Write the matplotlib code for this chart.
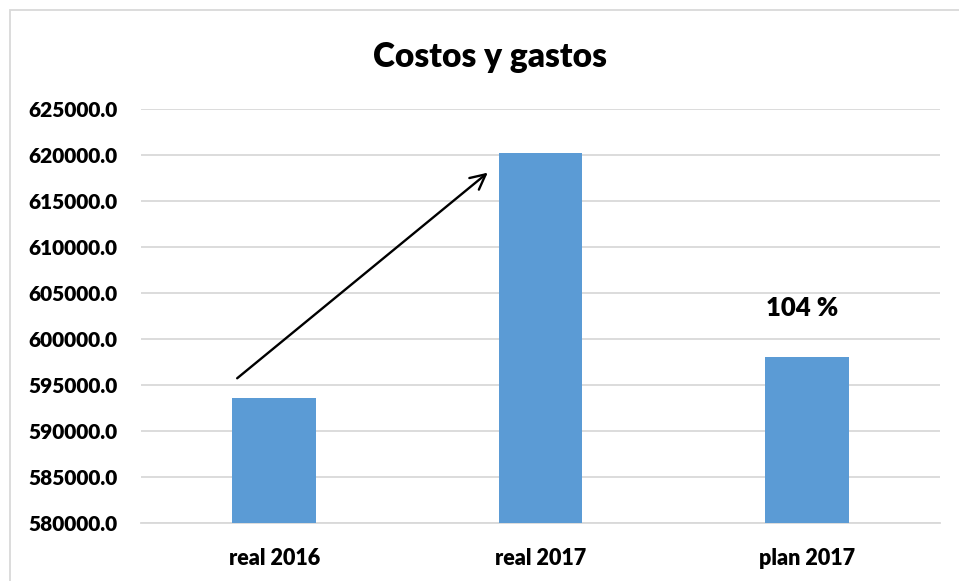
import matplotlib.pyplot as plt
from matplotlib.ticker import FormatStrFormatter
from matplotlib.patches import Rectangle

# datos
categorias = ['real 2016', 'real 2017', 'plan 2017']
valores = [593630, 620220, 598080]
titulo = 'Costos y gastos'
porcentaje = '104 %'
y_min, y_max, y_paso = 580000, 625000, 5000

plt.rcParams['font.family'] = ['Lato', 'DejaVu Sans']
plt.rcParams['font.weight'] = 'heavy'

fig = plt.figure(figsize=(9.59, 5.81), dpi=100)
ax = fig.add_axes([141 / 959, 1 - 523.3 / 581, 799 / 959, 414.6 / 581])

x = list(range(len(categorias)))
ax.bar(x, [v - y_min for v in valores], bottom=y_min, width=0.314, color='#5b9bd5', zorder=3)
ax.set_xlim(-0.5, 2.5)
ax.set_ylim(y_min, y_max)
ax.set_yticks(range(y_min, y_max + 1, y_paso))
ax.yaxis.set_major_formatter(FormatStrFormatter('%.1f'))
ax.set_xticks(x)
ax.set_xticklabels(categorias)
ax.grid(axis='y', color='#d9d9d9', linewidth=1.3, zorder=0)
for s in ['top', 'right', 'left']:
    ax.spines[s].set_visible(False)
ax.spines['bottom'].set_color('#d9d9d9')
ax.spines['bottom'].set_linewidth(1.3)
ax.tick_params(axis='y', length=0, labelsize=15, pad=17)
ax.tick_params(axis='x', length=0, labelsize=15.5, pad=18)

fig.text(0.511, 1 - 57 / 581, titulo, ha='center', va='center', fontsize=24, fontweight='heavy')

# flecha de real 2016 a real 2017
ax.annotate('', xy=(0.81, 618250), xytext=(-0.147, 595550),
            arrowprops=dict(arrowstyle='->', color='black', lw=1.7, mutation_scale=27), zorder=4)
ax.text(1.982, 603400, porcentaje, ha='center', va='center', fontsize=18.5, fontweight='heavy')

# borde del grafico
fig.patches.append(Rectangle((10 / 959, -0.1), 1.1, 1 - 9.5 / 581 + 0.1, transform=fig.transFigure,
                             fill=False, edgecolor='#d9d9d9', linewidth=1.3))

fig.savefig('out.png', dpi=100)
